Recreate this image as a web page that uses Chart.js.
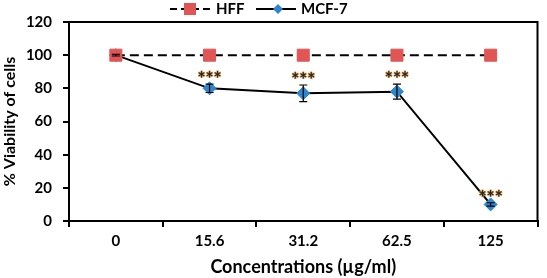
<!DOCTYPE html>
<html><head><meta charset="utf-8">
<script src="https://cdn.jsdelivr.net/npm/chart.js@4"></script>
<style>html,body{margin:0;padding:0;background:#fff}#wrap{width:547px;height:278px}</style>
</head><body><div id="wrap"><canvas id="c" width="547" height="278"></canvas></div>
<script>
const categories = ["0", "15.6", "31.2", "62.5", "125"];
const hffValues = [100, 100, 100, 100, 100];
const mcfValues = [100, 80, 77, 78, 10];
const mcfErrors = [0.5, 2.5, 5, 4.5, 1];
const mcfSignificance = ["", "***", "***", "***", "***"];
const yTicks = [0, 20, 40, 60, 80, 100, 120];

const FONT = "Lato, 'Open Sans', sans-serif";
const RED = "#E05555";
const BLUE = "#2F86CC";

const extras = {
  id: 'extras',
  afterDatasetsDraw(chart) {
    const ctx = chart.ctx, a = chart.chartArea;
    const xs = chart.scales.x, ys = chart.scales.y;
    ctx.save();
    ctx.strokeStyle = '#000'; ctx.lineWidth = 2;
    ctx.beginPath();
    ctx.moveTo(a.left, a.top); ctx.lineTo(a.right, a.top); ctx.lineTo(a.right, a.bottom);
    ctx.stroke();
    ctx.lineWidth = 1.2;
    mcfValues.forEach((v, i) => {
      const x = xs.getPixelForValue(i);
      const yt = ys.getPixelForValue(v + mcfErrors[i]);
      const yb = ys.getPixelForValue(v - mcfErrors[i]);
      ctx.beginPath();
      ctx.moveTo(x, yt); ctx.lineTo(x, yb);
      ctx.moveTo(x - 4, yt); ctx.lineTo(x + 4, yt);
      ctx.moveTo(x - 4, yb); ctx.lineTo(x + 4, yb);
      ctx.stroke();
    });
    ctx.font = "bold 19px " + FONT;
    ctx.textAlign = 'center'; ctx.textBaseline = 'middle';
    mcfValues.forEach((v, i) => {
      if (!mcfSignificance[i]) return;
      const x = xs.getPixelForValue(i);
      const y = ys.getPixelForValue(v + mcfErrors[i]) - 5;
      ctx.fillStyle = '#1b2a3a';
      ctx.strokeStyle = '#E8902A'; ctx.lineWidth = 1;
      ctx.strokeText(mcfSignificance[i], x, y);
      ctx.fillText(mcfSignificance[i], x, y);
    });
    ctx.restore();
  },
  afterDraw(chart) {
    const ctx = chart.ctx;
    ctx.save();
    const ly = 9;
    ctx.strokeStyle = '#000'; ctx.lineWidth = 2; ctx.setLineDash([7, 4]);
    ctx.beginPath(); ctx.moveTo(170, ly); ctx.lineTo(210, ly); ctx.stroke();
    ctx.setLineDash([]);
    ctx.fillStyle = RED; ctx.fillRect(184, ly - 6, 12, 12);
    ctx.fillStyle = '#000';
    ctx.font = "bold 15px " + FONT; ctx.textBaseline = 'middle'; ctx.textAlign = 'left';
    ctx.fillText(chart.data.datasets[0].label, 216, ly);
    ctx.beginPath(); ctx.moveTo(256, ly); ctx.lineTo(296, ly); ctx.stroke();
    ctx.fillStyle = BLUE;
    ctx.beginPath(); ctx.moveTo(278, ly - 5); ctx.lineTo(283, ly); ctx.lineTo(278, ly + 5); ctx.lineTo(273, ly); ctx.closePath(); ctx.fill();
    ctx.fillStyle = '#000';
    ctx.fillText(chart.data.datasets[1].label, 301, ly);
    ctx.restore();
  }
};

new Chart(document.getElementById('c'), {
  type: 'line',
  data: {
    labels: categories,
    datasets: [
      { label: 'HFF', data: hffValues, borderColor: '#000', borderWidth: 2, borderDash: [9, 5],
        pointStyle: 'rect', pointRadius: 8.5, pointBackgroundColor: RED, pointBorderColor: RED, pointBorderWidth: 1, tension: 0 },
      { label: 'MCF-7', data: mcfValues, borderColor: '#000', borderWidth: 2,
        pointStyle: 'rectRot', pointRadius: 6.5, pointBackgroundColor: BLUE, pointBorderColor: BLUE, pointBorderWidth: 1, tension: 0 }
    ]
  },
  options: {
    responsive: false, animation: false,
    layout: { padding: { top: 22, right: 4, left: 0, bottom: 0 } },
    plugins: { legend: { display: false }, tooltip: { enabled: false } },
    scales: {
      x: {
        offset: true,
        grid: { offset: true, drawOnChartArea: false, drawTicks: true, tickLength: 6, color: '#000', lineWidth: 2 },
        border: { color: '#000', width: 2 },
        ticks: { color: '#000', font: { family: FONT, size: 15, weight: 'bold' }, padding: 5 },
        title: { display: true, text: 'Concentrations (µg/ml)', color: '#000', font: { family: FONT, size: 18, weight: 'bold' }, padding: { top: 0, bottom: 0 } },
        afterFit(s) { s.height = 57; }
      },
      y: {
        min: 0, max: 120,
        afterBuildTicks(s) { s.ticks = yTicks.map(v => ({ value: v })); },
        grid: { drawOnChartArea: false, drawTicks: true, tickLength: 6, color: '#000', lineWidth: 2 },
        border: { color: '#000', width: 2 },
        ticks: { color: '#000', font: { family: FONT, size: 15, weight: 'bold' }, padding: 11 },
        title: { display: true, text: '% Viability of cells', color: '#000', font: { family: FONT, size: 16, weight: 'bold' }, padding: { top: 0, bottom: 2 } },
        afterFit(s) { s.width = 69; }
      }
    }
  },
  plugins: [extras]
});
</script></body></html>
